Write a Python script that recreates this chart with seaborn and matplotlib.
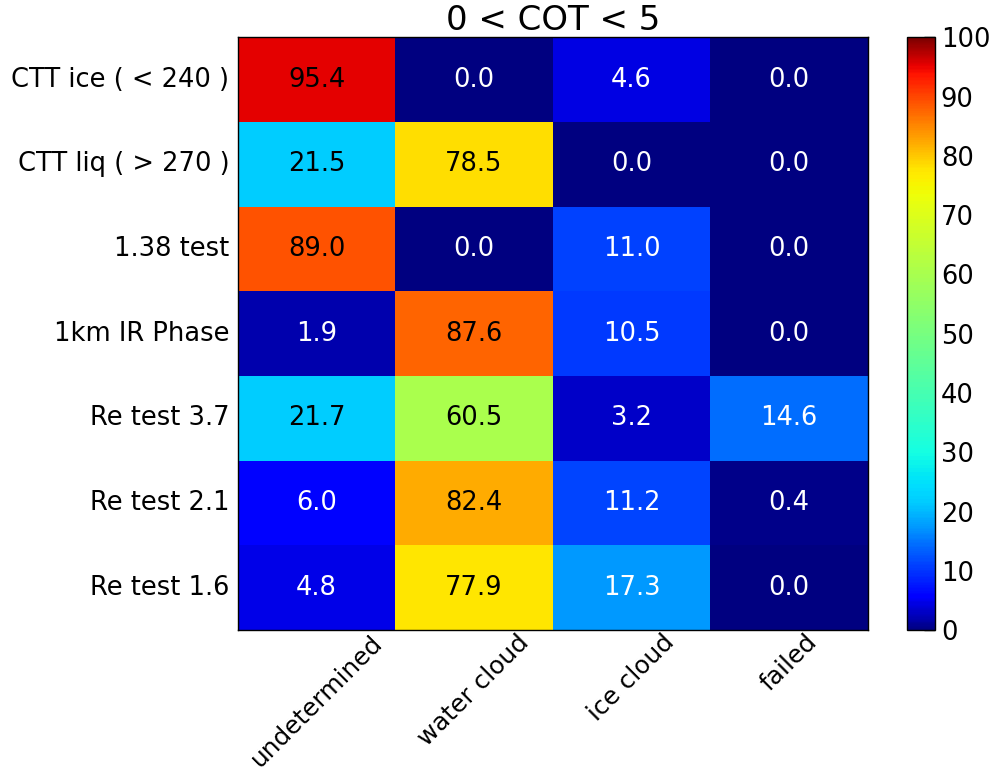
import numpy as np
import pandas as pd
import seaborn as sns
import matplotlib
matplotlib.use("Agg")
import matplotlib.pyplot as plt
from matplotlib.colors import ListedColormap

# Phase classification percentages per retrieval test, 0 < COT < 5
tests = ["CTT ice ( < 240 )", "CTT liq ( > 270 )", "1.38 test", "1km IR Phase",
         "Re test 3.7", "Re test 2.1", "Re test 1.6"]
phases = ["undetermined", "water cloud", "ice cloud", "failed"]
undetermined = [95.4, 21.5, 89.0, 1.9, 21.7, 6.0, 4.8]
water_cloud = [0.0, 78.5, 0.0, 87.6, 60.5, 82.4, 77.9]
ice_cloud = [4.6, 0.0, 11.0, 10.5, 3.2, 11.2, 17.3]
failed = [0.0, 0.0, 0.0, 0.0, 14.6, 0.4, 0.0]
title = "0 < COT < 5"

df = pd.DataFrame({"undetermined": undetermined, "water cloud": water_cloud,
                   "ice cloud": ice_cloud, "failed": failed}, index=tests)[phases]

# jet colormap with a stretched low end and compressed middle
stretch_in = [0.0, 0.019, 0.048, 0.06, 0.11, 0.146, 0.173, 0.215,
              0.605, 0.779, 0.824, 0.876, 0.89, 0.954, 1.0]
stretch_out = [0.0, 0.044, 0.095, 0.13, 0.19, 0.235, 0.275, 0.325,
               0.557, 0.667, 0.73, 0.80, 0.82, 0.91, 1.0]
grid = np.linspace(0, 1, 512)
jet = plt.get_cmap("jet")
cmap = ListedColormap(jet(np.interp(grid, stretch_in, stretch_out)))

sns.set_style("white")
plt.rcParams["font.family"] = ["DejaVu Sans"]
plt.rcParams["text.color"] = "black"
fs = 18.5

fig = plt.figure(figsize=(9.95, 7.77), dpi=100)
ax = fig.add_axes([0.239, 0.189, 0.633, 0.763])
cax = fig.add_axes([0.912, 0.189, 0.028, 0.763])

sns.heatmap(df, ax=ax, cbar_ax=cax, cmap=cmap, vmin=0, vmax=100,
            annot=True, fmt=".1f", annot_kws={"fontsize": fs},
            cbar_kws={"ticks": np.arange(0, 101, 10)})

# white labels on the dark cells, black elsewhere
for txt in ax.texts:
    v = float(txt.get_text())
    txt.set_color("white" if v < 20 else "black")

for s in ax.spines.values():
    s.set_visible(True)
    s.set_color("black")
    s.set_linewidth(1.0)

ax.tick_params(axis="both", direction="in", length=8, width=1, color="black",
               top=True, right=True, labelsize=fs, labelcolor="black")
ax.tick_params(axis="y", pad=6)
ax.tick_params(axis="x", pad=0)
ax.set_xticklabels(phases, rotation=45, ha="center", fontsize=17.8)
ax.set_yticklabels(tests, rotation=0, fontsize=fs)
ax.set_xlabel("")
ax.set_ylabel("")
ax.set_title(title, fontsize=24.5, pad=5, color="black")

cb = ax.collections[0].colorbar
cb.outline.set_visible(True)
cb.outline.set_linewidth(1.0)
cb.outline.set_edgecolor("black")
cax.tick_params(direction="in", length=8, width=1, color="black",
                labelsize=fs, labelcolor="black", pad=4)

fig.savefig("out.png", dpi=100, facecolor="white")
